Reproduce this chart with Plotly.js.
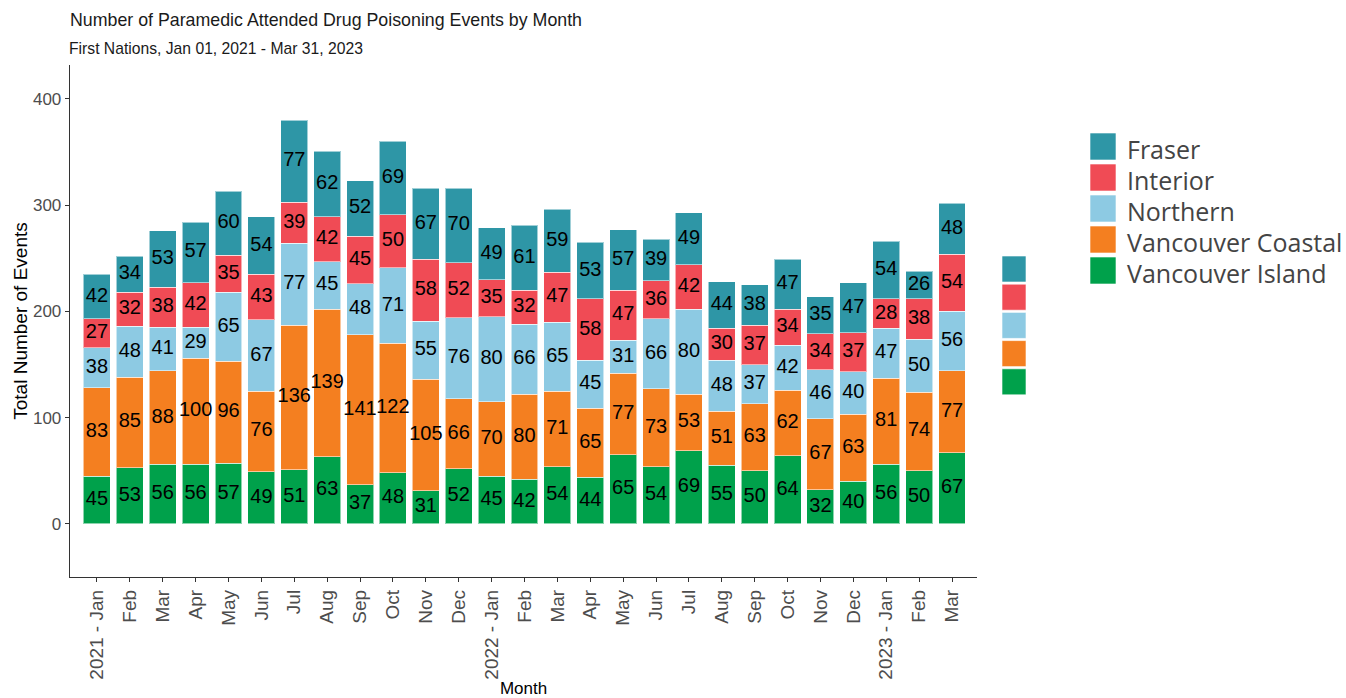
<!DOCTYPE html>
<html><head><meta charset="utf-8">
<script src="https://cdn.plot.ly/plotly-3.0.1.min.js"></script>
<style>html,body{margin:0;padding:0;background:#fff}#chart{width:1346px;height:698px}</style>
</head><body><div id="chart"></div>
<script>
const monthLabels = ["2021 - Jan","Feb","Mar","Apr","May","Jun","Jul","Aug","Sep","Oct","Nov","Dec",
  "2022 - Jan","Feb","Mar","Apr","May","Jun","Jul","Aug","Sep","Oct","Nov","Dec",
  "2023 - Jan","Feb","Mar"];
const vancouverIsland = [45,53,56,56,57,49,51,63,37,48,31,52,45,42,54,44,65,54,69,55,50,64,32,40,56,50,67];
const vancouverCoastal = [83,85,88,100,96,76,136,139,141,122,105,66,70,80,71,65,77,73,53,51,63,62,67,63,81,74,77];
const northern = [38,48,41,29,65,67,77,45,48,71,55,76,80,66,65,45,31,66,80,48,37,42,46,40,47,50,56];
const interior = [27,32,38,42,35,43,39,42,45,50,58,52,35,32,47,58,47,36,42,30,37,34,34,37,28,38,54];
const fraser = [42,34,53,57,60,54,77,62,52,69,67,70,49,61,59,53,57,39,49,44,38,47,35,47,54,26,48];

const seriesNames = ["Vancouver Island","Vancouver Coastal","Northern","Interior","Fraser"];
const seriesValues = [vancouverIsland, vancouverCoastal, northern, interior, fraser];
const seriesColors = ["#00A14B","#F47F20","#8DCAE3","#F04B55","#2E96A6"];

const FONT = 'Liberation Sans, Arial, sans-serif';
const xIdx = monthLabels.map((_, i) => i);
const traces = [];
const base = xIdx.map(() => 0);
const lx = [], ly = [], lt = [];
seriesValues.forEach((vals, s) => {
  traces.push({
    type: 'bar', x: xIdx, y: vals, name: seriesNames[s],
    marker: {color: seriesColors[s], line: {color: 'rgba(255,255,255,0.55)', width: 1}},
    hoverinfo: 'name+y', showlegend: false
  });
  vals.forEach((v, i) => {
    lx.push(i); ly.push(base[i] + v / 2); lt.push(String(v));
    base[i] += v;
  });
});
traces.push({
  type: 'scatter', mode: 'text', x: lx, y: ly, text: lt,
  textfont: {family: FONT, size: 20, color: '#000'},
  hoverinfo: 'skip', showlegend: false
});

// plot area pixel geometry
const L = 70, R = 977, T = 65, B = 577;
const px = v => (v - L) / (R - L);
const py = v => (B - v) / (B - T);

const shapes = [], annotations = [];
const legendOrder = [4,3,2,1,0];
const legTop = 133, legStep = 31, legH = 27;
legendOrder.forEach((s, k) => {
  const y0 = legTop + k * legStep;
  shapes.push({type:'rect', xref:'paper', yref:'paper', x0:px(1090), x1:px(1116), y0:py(y0+legH), y1:py(y0),
    fillcolor: seriesColors[s], line:{color:'rgba(255,255,255,0.6)', width:1}});
  annotations.push({xref:'paper', yref:'paper', x:px(1125), y:py(y0 + legH/2 + 2), xanchor:'left', yanchor:'middle',
    text: seriesNames[s], showarrow:false, font:{family:'Open Sans, sans-serif', size:25, color:'#444'}});
});
const swTop = 256, swStep = 28.2, swH = 26;
legendOrder.forEach((s, k) => {
  const y0 = swTop + k * swStep;
  shapes.push({type:'rect', xref:'paper', yref:'paper', x0:px(1002), x1:px(1026), y0:py(y0+swH), y1:py(y0),
    fillcolor: seriesColors[s], line:{color:'rgba(255,255,255,0.6)', width:1}});
});
annotations.push({xref:'paper', yref:'paper', x:0, y:py(48), xanchor:'left', yanchor:'middle', xshift:-2,
  text:'First Nations, Jan 01, 2021 - Mar 31, 2023', showarrow:false, borderpad:0,
  font:{family: FONT, size:15.7, color:'#1a1a1a'}});

const layout = {
  width: 1346, height: 698,
  margin: {l: L, r: 1346 - R, t: T, b: 698 - B, pad: 0},
  paper_bgcolor: '#fff', plot_bgcolor: '#fff',
  barmode: 'stack', bargap: 0.18,
  showlegend: false,
  title: {text: 'Number of Paramedic Attended Drug Poisoning Events by Month',
    x: L / 1346, xref: 'container', xanchor: 'left', y: 1 - 20 / 698, yref: 'container', yanchor: 'middle',
    font: {family: FONT, size: 17.8, color: '#1a1a1a'}},
  xaxis: {
    range: [-0.82, 26.76], tickmode: 'array', tickvals: xIdx, ticktext: monthLabels,
    tickangle: -90, ticks: 'outside', ticklen: 4, tickcolor: '#333', tickwidth: 1,
    tickfont: {family: FONT, size: 19, color: '#4d4d4d'},
    showline: true, linecolor: '#333', linewidth: 1.3, showgrid: false, zeroline: false,
    title: {text: 'Month', standoff: 4, font: {family: FONT, size: 17, color: '#000'}}
  },
  yaxis: {
    range: [-50, 432], tickvals: [0,100,200,300,400],
    ticks: 'outside', ticklen: 4, tickcolor: '#333', tickwidth: 1,
    tickfont: {family: FONT, size: 17, color: '#4d4d4d'},
    showline: true, linecolor: '#333', linewidth: 1.3, showgrid: false, zeroline: false,
    title: {text: 'Total Number of Events', standoff: 0, font: {family: FONT, size: 19, color: '#000'}}
  },
  shapes: shapes, annotations: annotations
};
Plotly.newPlot('chart', traces, layout, {displayModeBar: false, staticPlot: true});
</script></body></html>
